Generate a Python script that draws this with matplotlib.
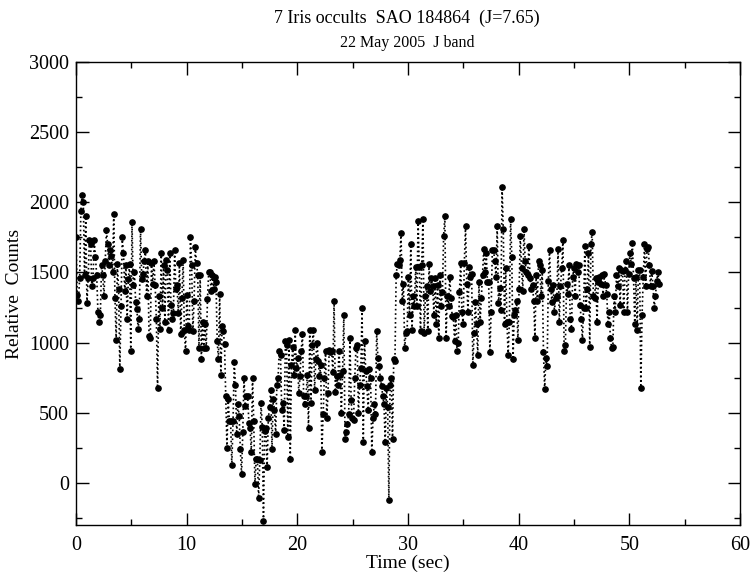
import numpy as np
import matplotlib.pyplot as plt
from matplotlib.ticker import MultipleLocator

# sampling interval (sec)
dt = 0.11

# relative counts in ~5.4 s chunks
counts_a = [1750, 1340, 1300, 1460, 1940, 2050, 2000, 1480, 1900, 1280, 1460, 1730, 1700, 1400,
            1460, 1730, 1610, 1480, 1220, 1150, 1200, 1550, 1480, 1330, 1580, 1800, 1700, 1550,
            1660, 1620, 1500, 1920, 1320, 1020, 1560, 1380, 810, 1260, 1750, 1640, 1370, 1550,
            1170, 1450, 1560, 940, 1860, 1410, 1500]
counts_b = [1290, 1240, 1100, 1170, 1810, 1450, 1490, 1580, 1660, 1330, 1580, 1050, 1030, 1570,
            1420, 1580, 1410, 1170, 675, 1330, 1100, 1640, 1250, 1550, 1150, 1590, 1520, 1090,
            1640, 1270, 1170, 1210, 1660, 1380, 1410, 1210, 1570, 1060, 1320, 1590, 1090, 940,
            1340, 1120, 1090, 1750, 1550, 1080, 1300]
counts_c = [1680, 1570, 1480, 960, 1480, 880, 1150, 960, 1130, 960, 1310, 1500, 1500, 1370,
            1480, 1380, 1470, 1430, 1010, 880, 1350, 770, 1120, 1080, 990, 620, 250, 600, 440,
            440, 130, 440, 860, 700, 350, 560, 480, 240, 60, 360, 750, 550, 620, 620, 430, 390,
            220, 750, 440]
counts_d = [-10, 170, 170, -110, 160, 570, 400, -270, 370, 390, 110, 460, 540, 660, 240, 600,
            520, 350, 700, 750, 940, 910, 520, 570, 380, 1010, 980, 330, 1020, 170, 840, 970,
            770, 1090, 820, 890, 640, 760, 940, 1060, 620, 560, 620, 770, 390, 1090, 570, 980,
            1090]
counts_e = [660, 880, 1000, 870, 760, 840, 220, 490, 750, 940, 460, 640, 950, 930, 940, 790,
            1300, 650, 760, 700, 940, 770, 500, 800, 1200, 310, 360, 420, 490, 1030, 590, 460,
            450, 750, 960, 980, 500, 700, 820, 1250, 290, 1010, 800, 690, 520, 810, 750, 220, 460]
counts_f = [560, 490, 1080, 890, 830, 750, 690, 620, 560, 290, 680, 540, -120, 700, 750, 310,
            880, 870, 1480, 1560, 1550, 1590, 1780, 1300, 1420, 960, 1070, 1080, 1470, 1200,
            1700, 1090, 1330, 1260, 1540, 1260, 1870, 1540, 1080, 1550, 1880, 1070, 1330, 1400,
            1080, 1560, 1370, 1460, 1400]
counts_g = [1200, 1460, 1130, 1410, 1030, 1480, 1260, 1360, 1760, 1900, 1030, 1330, 1260, 1470,
            1320, 1190, 1180, 1010, 1200, 940, 1000, 1360, 1570, 1220, 1130, 1570, 1830, 1420,
            1220, 1540, 1470, 1490, 840, 1070, 1290, 1130, 910, 1430, 1150, 1320, 1480, 1670,
            1500, 1640, 1430, 1430, 930, 1220, 1660]
counts_h = [1660, 1580, 1470, 1830, 1280, 1390, 1230, 2110, 1810, 1130, 1530, 1150, 910, 1150,
            1880, 1610, 880, 1200, 1230, 1300, 1020, 1380, 1760, 1530, 1370, 1810, 1580, 1500,
            1480, 1690, 1460, 1380, 1410, 1300, 1030, 1480, 1300, 1580, 1550, 1330, 1520, 930,
            670, 890, 830, 1440, 1660, 1380, 1290]
counts_i = [1410, 1220, 1320, 1330, 1670, 1150, 1400, 1530, 1730, 940, 980, 1420, 1350, 1550,
            1170, 1100, 1470, 1530, 1330, 1560, 1500, 1550, 1270, 1170, 1020, 1250, 1690, 1250,
            1380, 1640, 970, 1700, 1790, 1330, 1320, 1460, 1150, 1430, 1470, 1420, 1480, 1330,
            1490, 1410, 1350, 1130, 1220, 1030, 960]
counts_j = [970, 1330, 1220, 1480, 1400, 1530, 1270, 1520, 1510, 1220, 1520, 1580, 1220, 1490,
            1640, 1560, 1710, 1460, 1130, 1470, 1090, 1520, 1520, 680, 1200, 1470, 1700, 1400,
            1670, 1680, 1550, 1400, 1510, 1400, 1250, 1330, 1440, 1500, 1420]

counts = np.array(counts_a + counts_b + counts_c + counts_d + counts_e +
                  counts_f + counts_g + counts_h + counts_i + counts_j)
time = np.arange(len(counts)) * dt

plt.rcParams['font.family'] = 'Liberation Serif'

fig = plt.figure(figsize=(7.54, 5.73), dpi=100)
ax = fig.add_axes([76 / 754, 1 - 525 / 573, 664 / 754, 463 / 573])

ax.plot(time, counts, color='black', linestyle=':', linewidth=1.2,
        marker='o', markersize=3.8, markerfacecolor='black', markeredgecolor='black')

ax.set_xlim(0, 60)
ax.set_ylim(-300, 3000)
ax.xaxis.set_major_locator(MultipleLocator(10))
ax.xaxis.set_minor_locator(MultipleLocator(5))
ax.yaxis.set_major_locator(MultipleLocator(500))
ax.yaxis.set_minor_locator(MultipleLocator(250))
ax.tick_params(which='both', direction='in', top=True, right=True, labelsize=14.5, width=1)
ax.tick_params(which='major', length=9)
ax.tick_params(which='minor', length=4.5)
ax.tick_params(axis='x', which='major', pad=8)
ax.tick_params(axis='y', which='major', pad=5)
for s in ax.spines.values():
    s.set_linewidth(1)

ax.set_xlabel('Time (sec)', fontsize=14, labelpad=0)
ax.set_ylabel('Relative  Counts', fontsize=14, labelpad=4)

fig.text(0.54, 1 - 18 / 573, '7 Iris occults  SAO 184864  (J=7.65)',
         ha='center', va='center', fontsize=13)
fig.text(0.54, 1 - 43 / 573, '22 May 2005  J band',
         ha='center', va='center', fontsize=11.5)

fig.savefig('out.png', dpi=100)
